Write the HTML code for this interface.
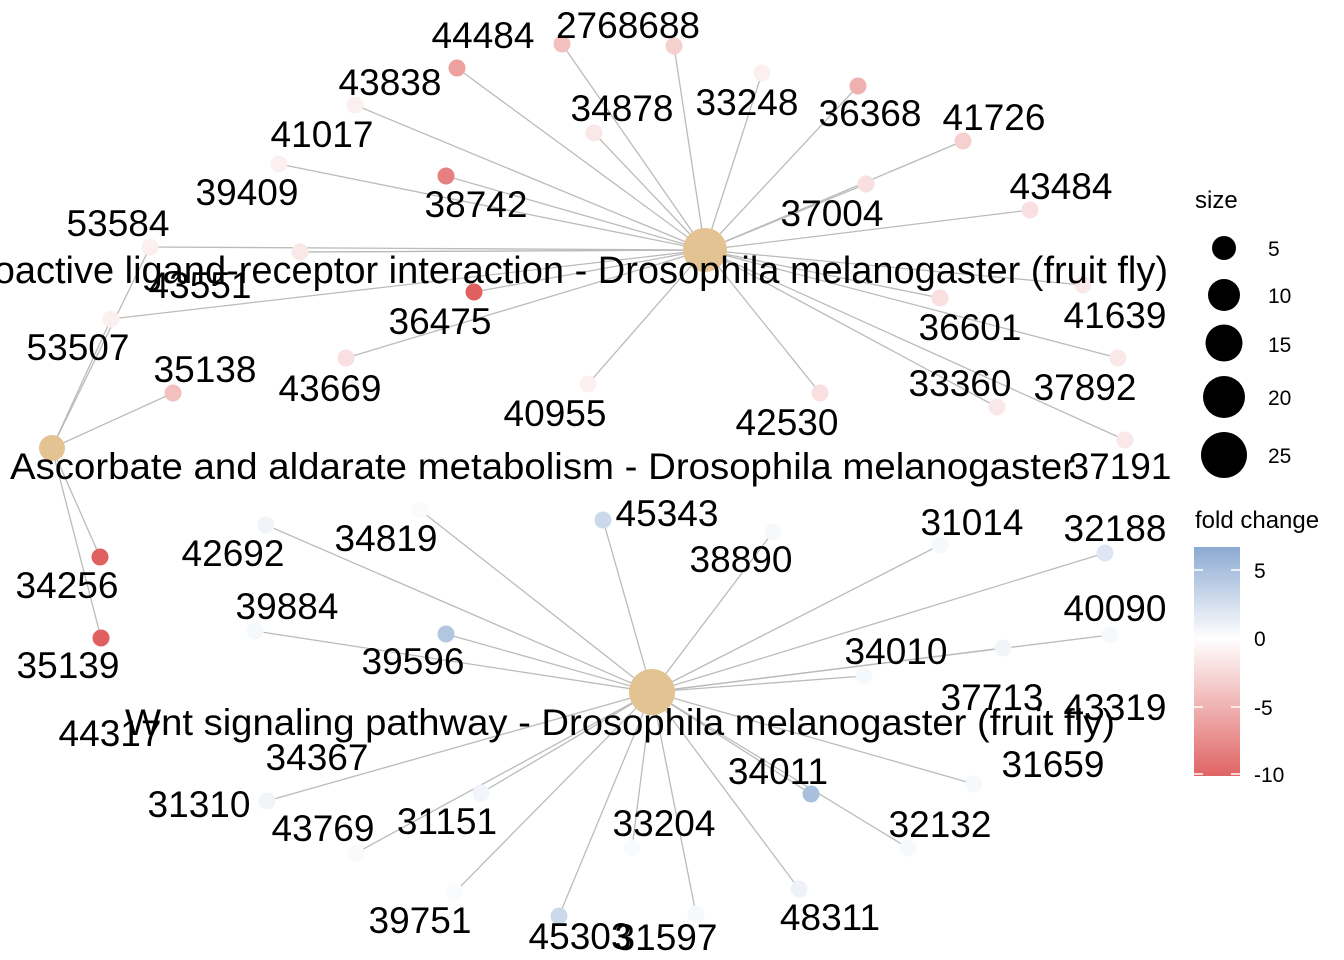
<!DOCTYPE html>
<html><head><meta charset="utf-8"><style>
body{margin:0;background:#fff;}
svg{display:block;font-family:"Liberation Sans",Arial,sans-serif;}
</style></head><body>
<svg id="chart" width="1344" height="960" viewBox="0 0 1344 960">
<defs><linearGradient id="fcgrad" x1="0" y1="0" x2="0" y2="1">
<stop offset="0" stop-color="#8caad2"/><stop offset="0.4" stop-color="#ffffff"/><stop offset="1" stop-color="#e06464"/></linearGradient></defs>
<g id="edges"></g><g id="nodes"></g><g id="labels"></g>
<g id="legend">
<text x="1195" y="208" font-size="24">size</text>
<circle cx="1224" cy="248" r="12"/><circle cx="1224" cy="295" r="16"/><circle cx="1224" cy="343" r="18.5"/><circle cx="1224" cy="397" r="21"/><circle cx="1224" cy="455" r="23"/>
<g font-size="21"><text x="1268" y="256">5</text><text x="1268" y="303">10</text><text x="1268" y="352">15</text><text x="1268" y="405">20</text><text x="1268" y="463">25</text></g>
<text x="1195" y="528" font-size="24">fold change</text>
<rect x="1194" y="547" width="46" height="229" fill="url(#fcgrad)"/>
<g stroke="#fff" stroke-width="1.5"><line x1="1194" y1="570" x2="1203" y2="570"/><line x1="1231" y1="570" x2="1240" y2="570"/><line x1="1194" y1="707" x2="1203" y2="707"/><line x1="1231" y1="707" x2="1240" y2="707"/><line x1="1194" y1="774" x2="1203" y2="774"/><line x1="1231" y1="774" x2="1240" y2="774"/></g>
<g font-size="21"><text x="1254" y="578">5</text><text x="1254" y="646">0</text><text x="1254" y="715">-5</text><text x="1254" y="782">-10</text></g>
</g>
</svg>
<script>
const geneIds=["44484","2768688a","2768688","43838","41017","39409","38742","34878","33248","36368","41726","37004","43484","43551","36475","43669","40955","42530","36601","41639","37892","33360","37191","53584","53507","35138","34256","35139","42692","34819","45343","38890","31014","32188","39884","39596","40090","37713","34010","31310","43769","31151","33204","39751","45303","31597","48311","34011","32132","31659"];
const foldChange=[-6,-4,-3,-1,-1,-1,-8,-1.5,-1,-5,-3,-2,-2,-1.5,-10,-2,-1,-2,-2,-1.5,-1.5,-1.5,-1.5,-1,-1,-4,-10,-10,0.8,0.3,3,0.5,0.5,2,0.5,4.5,0.5,0.8,0.5,0.8,0.4,0.8,0.3,0.3,3,0.5,1,5,0.5,0.5];
const nodeX=[457,562,674,355,279,300,446,594,762,858,963,866,1030,300,474,346,588,820,940,1083,1118,997,1125,150,111,173,100,101,266,420,603,773,940,1105,255,446,1110,1003,864,267,356,481,632,455,559,696,799,811,908,974];
const nodeY=[68,44,46,105,164,252,176,133,73,86,141,184,210,252,292,358,384,393,298,285,358,407,440,247,319,393,557,638,525,510,520,532,545,553,631,634,635,648,676,801,853,793,848,892,916,914,889,794,848,784];
const hubNames=["Neuroactive ligand-receptor interaction - Drosophila melanogaster (fruit fly)","Ascorbate and aldarate metabolism - Drosophila melanogaster","Wnt signaling pathway - Drosophila melanogaster (fruit fly)"];
const hubX=[705,52,652],hubY=[250,448,692],hubR=[22,13,23];
const hubGenes=[[0,1,2,3,4,5,6,7,8,9,10,11,12,13,14,15,16,17,18,19,20,21,22,23,24],[23,24,25,26,27],[28,29,30,31,32,33,34,35,36,37,38,39,40,41,42,43,44,45,46,47,48,49]];
const labelText=["44484","2768688","43838","41017","39409","38742","34878","33248","36368","41726","37004","43484","53584","43551","36475","53507","35138","43669","40955","42530","36601","41639","33360","37892","37191","34256","35139","42692","34819","45343","38890","31014","32188","39884","39596","40090","34010","37713","43319","44317","34367","34011","31659","31310","43769","31151","33204","32132","39751","45303","31597","48311"];
const labelX=[483,628,390,322,247,476,622,747,870,994,832,1061,118,200,440,78,205,330,555,787,970,1115,960,1085,1120,67,68,233,386,667,741,972,1115,287,413,1115,896,992,1115,110,317,778,1053,199,323,447,664,940,420,580,666,830];
const labelY=[35,25,82,134,192,204,108,102,113,117,213,186,223,285,321,347,369,388,413,422,327,315,383,387,466,585,665,553,538,513,559,522,528,606,661,608,651,697,707,733,757,771,764,804,828,821,823,824,920,936,937,917];
const NS="http://www.w3.org/2000/svg";
function col(v){let a,b,t;if(v<0){t=Math.min(1,-v/10);a=[255,255,255];b=[224,96,96];}else{t=Math.min(1,v/6.7);a=[255,255,255];b=[140,170,210];}
return `rgb(${a.map((c,i)=>Math.round(c+(b[i]-c)*t)).join(',')})`;}
const E=document.getElementById('edges'),N=document.getElementById('nodes'),L=document.getElementById('labels');
hubGenes.forEach((gs,h)=>gs.forEach(g=>{const l=document.createElementNS(NS,'line');
l.setAttribute('x1',hubX[h]);l.setAttribute('y1',hubY[h]);l.setAttribute('x2',nodeX[g]);l.setAttribute('y2',nodeY[g]);
l.setAttribute('stroke','#bbbbbb');l.setAttribute('stroke-width','1.3');


E.appendChild(l);}));
geneIds.forEach((id,i)=>{const c=document.createElementNS(NS,'circle');
c.setAttribute('cx',nodeX[i]);c.setAttribute('cy',nodeY[i]);c.setAttribute('r',8.5);c.setAttribute('fill',col(foldChange[i]));


N.appendChild(c);});
hubNames.forEach((n,h)=>{const c=document.createElementNS(NS,'circle');
c.setAttribute('cx',hubX[h]);c.setAttribute('cy',hubY[h]);c.setAttribute('r',hubR[h]);c.setAttribute('fill','#e2c391');


N.appendChild(c);});
labelText.forEach((t,i)=>{const x=document.createElementNS(NS,'text');
x.setAttribute('x',labelX[i]);x.setAttribute('y',labelY[i]+13);x.setAttribute('text-anchor','middle');x.setAttribute('font-size','37');
x.textContent=t;


L.appendChild(x);});
const pl=[[1168,283,'end',null,38],[10,479,'start',1065,37],[1115,735,'end',990,37]];
hubNames.forEach((n,h)=>{const x=document.createElementNS(NS,'text');
x.setAttribute('x',pl[h][0]);x.setAttribute('y',pl[h][1]);x.setAttribute('text-anchor',pl[h][2]);x.setAttribute('font-size',pl[h][4]);
if(pl[h][3]){x.setAttribute('textLength',pl[h][3]);x.setAttribute('lengthAdjust','spacingAndGlyphs');}
x.textContent=n;


L.appendChild(x);});
</script>
</body></html>
